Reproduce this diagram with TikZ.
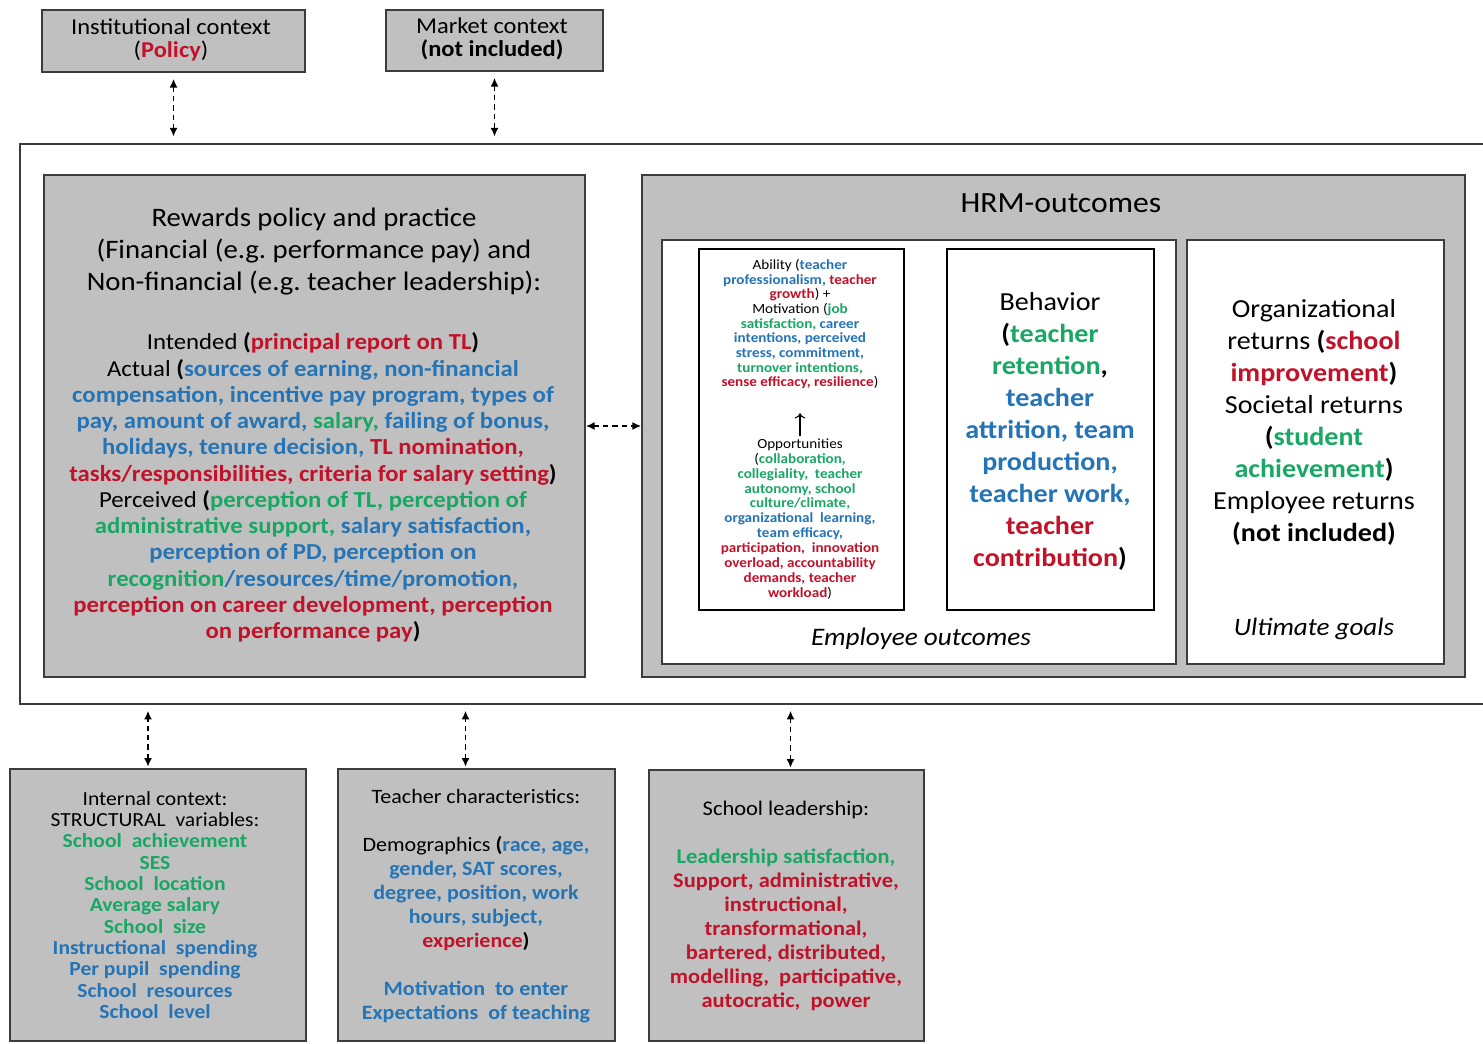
\documentclass[tikz,border=0pt]{standalone}
\usepackage{fontspec}
\setmainfont{Carlito}[FakeStretch=1.08]
\usetikzlibrary{fit,arrows.meta}
\definecolor{boxgray}{RGB}{192,192,192}
\definecolor{edgegray}{RGB}{60,60,60}
\definecolor{hred}{RGB}{194,18,42}
\definecolor{hgreen}{RGB}{24,168,100}
\definecolor{hblue}{RGB}{36,116,182}
\newcommand\redt[1]{\textbf{\color{hred}#1}}
\newcommand\grnt[1]{\textbf{\color{hgreen}#1}}
\newcommand\blut[1]{\textbf{\color{hblue}#1}}
\newcommand\setfs[2]{\fontsize{#1}{#2}\selectfont}
\begin{document}
\begin{tikzpicture}[x=0.75pt,y=-0.75pt,
  graybox/.style={draw=edgegray, fill=boxgray, line width=1.3pt, inner sep=0pt},
  whitebox/.style={draw=edgegray, fill=white, line width=1.3pt, inner sep=0pt},
  thinbox/.style={draw=black, fill=white, line width=0.8pt, inner sep=0pt},
  txt/.style={align=center, inner sep=0pt},
  link/.style={dash pattern=on 4pt off 3pt, line width=1.4pt,
    {Latex[length=6.5pt,width=6pt]}-{Latex[length=6.5pt,width=6pt]}}]
\useasboundingbox (0,0) rectangle (1483,1044);
\fill[white] (0,0) rectangle (1483,1044);

% context boxes above the model
\node[graybox, fit={(42,10) (305,72)}] (inst) {};
\node[txt, font=\setfs{17pt}{17.25pt}] (inst-text) at (171,40)
  {Institutional context\\(\redt{Policy})};
\node[graybox, fit={(386,10) (603,71)}] (market) {};
\node[txt, font=\setfs{17pt}{17.25pt}] (market-text) at (492,39)
  {Market context\\\textbf{(not included)}};

% frame of the model
\node[draw=edgegray, fill=white, line width=1.1pt, inner sep=0pt, fit={(20,144) (1495,704)}] (outer) {};

% rewards policy and practice
\node[graybox, fit={(44,175) (585,677)}] (rewards) {};
\node[txt, font=\setfs{20pt}{24pt}] (rewards-title) at (314,252)
  {Rewards policy and practice\\(Financial (e.g.\ performance pay) and\\Non-financial (e.g.\ teacher leadership):};
\node[txt, font=\setfs{17.2pt}{19.7pt}] (rewards-body) at (313,487.5)
  {Intended \textbf{(}\redt{principal report on TL}\textbf{)}\\
   Actual \textbf{(}\blut{sources of earning, non-financial}\\
   \blut{compensation, incentive pay program, types of}\\
   \blut{pay, amount of award,} \grnt{salary,} \blut{failing of bonus,}\\
   \blut{holidays, tenure decision,} \redt{TL nomination,}\\
   \redt{tasks/responsibilities, criteria for salary setting}\textbf{)}\\
   Perceived \textbf{(}\grnt{perception of TL, perception of}\\
   \grnt{administrative support,} \blut{salary satisfaction,}\\
   \blut{perception of PD, perception on}\\
   \grnt{recognition}\blut{/resources/time/promotion,}\\
   \redt{perception on career development, perception}\\
   \redt{on performance pay}\textbf{)}};

% HRM outcomes
\node[graybox, fit={(642,175) (1465,677)}] (hrm) {};
\node[txt, font=\setfs{22pt}{24pt}] (hrm-title) at (1061,203) {HRM-outcomes};
\node[whitebox, fit={(662,240) (1176,664)}] (employee) {};
\node[txt, font=\itshape\setfs{18.9pt}{20pt}] (employee-label) at (921,639) {Employee outcomes};
\node[thinbox, fit={(699,249) (904,610)}] (amo) {};
\node[txt, font=\setfs{10.5pt}{11pt}] (ability) at (800,324)
  {Ability (\blut{teacher}\\
   \blut{professionalism,} \redt{teacher}\\
   \redt{growth}) +\\
   Motivation (\grnt{job}\\
   \grnt{satisfaction,} \blut{career}\\
   \blut{intentions, perceived}\\
   \blut{stress, commitment,}\\
   \grnt{turnover intentions,}\\
   \redt{sense efficacy, resilience})};
\node[txt, font=\setfs{10.5pt}{11.2pt}] (opportunities) at (800,519)
  {Opportunities\\
   (\grnt{collaboration,}\\
   \grnt{collegiality,\ \ teacher}\\
   \grnt{autonomy, school}\\
   \grnt{culture/climate,}\\
   \blut{organizational\ \ learning,}\\
   \blut{team efficacy,}\\
   \redt{participation,\ \ innovation}\\
   \redt{overload, accountability}\\
   \redt{demands, teacher}\\
   \redt{workload})};
\draw[-{To[length=4pt,width=8pt]}, line width=0.8pt, shorten <=2pt, shorten >=18pt]
  (opportunities.north) -- (ability.south);
\node[thinbox, fit={(947,249) (1154,610)}] (behavior) {};
\node[txt, font=\setfs{19.5pt}{24pt}] (behavior-text) at (1050,431.5)
  {Behavior\\
   \textbf{(}\grnt{teacher}\\
   \grnt{retention}\textbf{,}\\
   \blut{teacher}\\
   \blut{attrition, team}\\
   \blut{production,}\\
   \blut{teacher work,}\\
   \redt{teacher}\\
   \redt{contribution}\textbf{)}};
\node[whitebox, fit={(1187,240) (1444,664)}] (goals) {};
\node[txt, font=\setfs{19.5pt}{24pt}] (goals-body) at (1314,422)
  {Organizational\\
   returns \textbf{(}\redt{school}\\
   \redt{improvement}\textbf{)}\\
   Societal returns\\
   \textbf{(}\grnt{student}\\
   \grnt{achievement}\textbf{)}\\
   Employee returns\\
   \textbf{(not included)}};
\node[txt, font=\itshape\setfs{18.8pt}{20pt}] (goals-label) at (1314,629) {Ultimate goals};

% context boxes below the model
\node[graybox, fit={(10,769) (306,1041)}] (internal) {};
\node[txt, font=\setfs{15pt}{16pt}] (internal-text) at (155,905)
  {Internal context:\\
   STRUCTURAL\ \ variables:\\
   \grnt{School\ \ achievement}\\
   \grnt{SES}\\
   \grnt{School\ \ location}\\
   \grnt{Average salary}\\
   \grnt{School\ \ size}\\
   \blut{Instructional\ \ spending}\\
   \blut{Per pupil\ \ spending}\\
   \blut{School\ \ resources}\\
   \blut{School\ \ level}};
\node[graybox, fit={(338,769) (615,1041)}] (teacher) {};
\node[txt, font=\setfs{15.3pt}{18pt}] (teacher-text) at (476,906)
  {Teacher characteristics:\\[18pt]
   Demographics \textbf{(}\blut{race, age,}\\
   \blut{gender, SAT scores,}\\
   \blut{degree, position, work}\\
   \blut{hours, subject,}\\
   \redt{experience}\textbf{)}\\[18pt]
   \blut{Motivation\ \ to enter}\\
   \blut{Expectations\ \ of teaching}};
\node[graybox, fit={(649,770) (924,1041)}] (leadership) {};
\node[txt, font=\setfs{15.6pt}{18pt}] (leadership-text) at (786,906)
  {School leadership:\\[18pt]
   \grnt{Leadership satisfaction,}\\
   \redt{Support, administrative,}\\
   \redt{instructional,}\\
   \redt{transformational,}\\
   \redt{bartered, distributed,}\\
   \redt{modelling,\ \ participative,}\\
   \redt{autocratic,\ \ power}};

% two-way links
\draw[link, shorten <=4.5pt, shorten >=5pt] (inst.south) -- (inst.south |- outer.north);
\draw[link, shorten <=4.5pt, shorten >=5pt] (market.south) -- (market.south |- outer.north);
\draw[link] (rewards.east) -- (hrm.west);
\path (internal.north) ++(-10,0) coordinate (internal-in);
\path (teacher.north) ++(-11,0) coordinate (teacher-in);
\path (leadership.north) ++(4,0) coordinate (leadership-in);
\draw[link, shorten <=1pt, shorten >=4.5pt] (internal-in) -- (internal-in |- outer.south);
\draw[link, shorten <=1pt, shorten >=4.5pt] (teacher-in) -- (teacher-in |- outer.south);
\draw[link, shorten <=1pt, shorten >=4.5pt] (leadership-in) -- (leadership-in |- outer.south);
\end{tikzpicture}
\end{document}
